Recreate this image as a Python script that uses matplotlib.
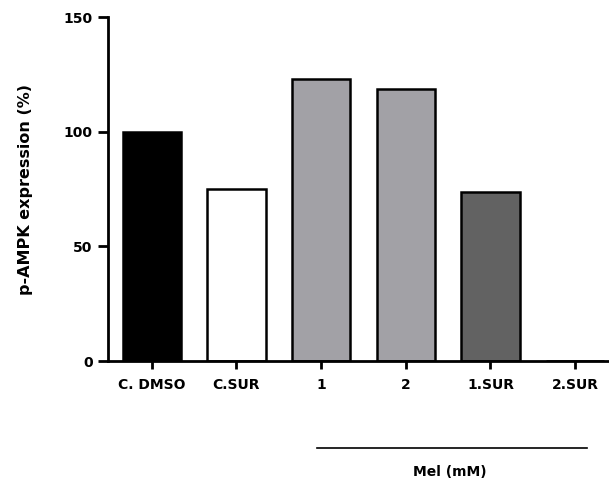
import matplotlib
matplotlib.use("Agg")
import matplotlib.pyplot as plt

# Bar data
groups = ["C. DMSO", "C.SUR", "1", "2", "1.SUR", "2.SUR"]
values = [100, 75, 123, 118.5, 73.5, 0]
colors = ["#000000", "#ffffff", "#a2a1a6", "#a2a1a6", "#626262", "#ffffff"]
yticks = [0, 50, 100, 150]

plt.rcParams['font.family'] = ['DejaVu Sans']
plt.rcParams['font.weight'] = 'bold'

fig = plt.figure(figsize=(6.09, 4.86), dpi=100)
ax = fig.add_axes([0.177, 0.257, 0.823, 0.708])

x = range(len(groups))
ax.bar(x, values, width=0.69, color=colors, edgecolor="black", linewidth=1.8)

ax.set_xlim(-0.52, 5.4)
ax.set_ylim(0, 150)
ax.set_yticks(yticks)
ax.set_xticks(list(x))
ax.set_xticklabels(groups, fontsize=10, fontweight='bold')
ax.tick_params(axis='y', labelsize=10, width=2, length=7, pad=4)
ax.tick_params(axis='x', width=2, length=6, pad=6)
for lab in ax.get_yticklabels():
    lab.set_fontweight('bold')

ax.spines['top'].set_visible(False)
ax.spines['right'].set_visible(False)
ax.spines['left'].set_linewidth(2)
ax.spines['bottom'].set_linewidth(2)

ax.set_ylabel("p-AMPK expression (%)", fontsize=11.5, fontweight='bold', labelpad=22)

# Mel bracket under the treatment groups
fig.add_artist(plt.Line2D([317 / 609, 587 / 609], [1 - 448 / 486, 1 - 448 / 486],
                          color="black", linewidth=1.2))
fig.text(450 / 609, 1 - 472 / 486, "Mel (mM)", ha="center", va="center",
         fontsize=10, fontweight='bold')

fig.savefig("out.png", dpi=100)
